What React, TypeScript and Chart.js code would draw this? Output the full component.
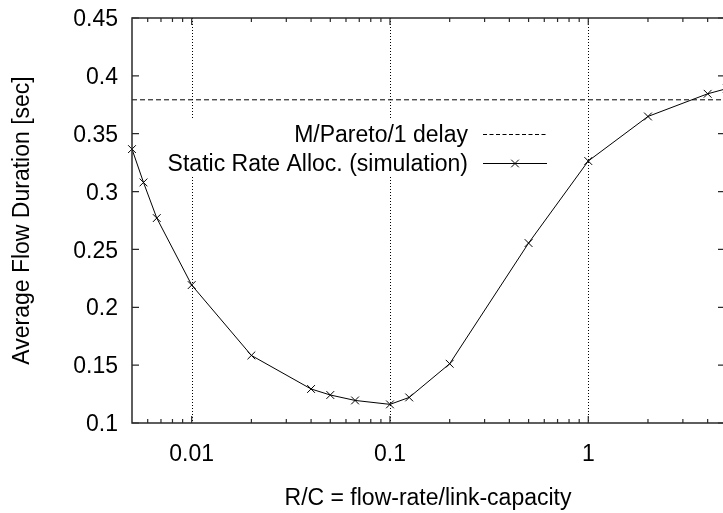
import React, { useEffect, useRef } from 'react';
import { Chart, registerables } from 'chart.js';

Chart.register(...registerables);

// ---- data ----
const rcRatio = [0.005, 0.005714, 0.006667, 0.01, 0.02, 0.04, 0.05, 0.06667, 0.1, 0.125, 0.2, 0.5, 1, 2, 4, 5];
const simDuration = [0.3367, 0.3079, 0.2771, 0.2192, 0.1584, 0.1294, 0.1242, 0.1195, 0.1161, 0.1221, 0.1512, 0.2555, 0.3264, 0.3649, 0.3845, 0.389];
const paretoDelay = 0.3793;
const xRange = [0.005, 4.78];
const yRange = [0.1, 0.45];

const xMajorTicks = [0.01, 0.1, 1];
const xMajorLabels = ['0.01', '0.1', '1'];
const xMinorTicks = [0.006, 0.007, 0.008, 0.009, 0.02, 0.03, 0.04, 0.05, 0.06, 0.07, 0.08, 0.09,
  0.2, 0.3, 0.4, 0.5, 0.6, 0.7, 0.8, 0.9, 2, 3, 4];
const yTicks = [0.1, 0.15, 0.2, 0.25, 0.3, 0.35, 0.4, 0.45];
const yTickLabels = ['0.1', '0.15', '0.2', '0.25', '0.3', '0.35', '0.4', '0.45'];

const xTitle = 'R/C = flow-rate/link-capacity';
const yTitle = 'Average Flow Duration [sec]';
const legendLabels = ['M/Pareto/1 delay', 'Static Rate Alloc. (simulation)'];

const FONT = '23px "Liberation Sans", Arial, sans-serif';
const AXIS_COLOR = '#2a2a2a';

const gnuplotPlugin = {
  id: 'gnuplotFrame',
  beforeDatasetsDraw(chart: any) {
    const { ctx, chartArea: a, scales } = chart;
    const x = scales.x;
    ctx.save();
    // dotted grid at major x ticks
    ctx.strokeStyle = '#000';
    ctx.lineWidth = 1;
    ctx.setLineDash([1, 2]);
    xMajorTicks.forEach((v) => {
      const px = Math.round(x.getPixelForValue(v)) + 0.5;
      ctx.beginPath();
      ctx.moveTo(px, a.top);
      ctx.lineTo(px, a.bottom);
      ctx.stroke();
    });
    ctx.setLineDash([]);
    // legend box background (blanks grid)
    ctx.fillStyle = '#fff';
    ctx.fillRect(160, 120, 395, 57);
    ctx.restore();
  },
  afterDraw(chart: any) {
    const { ctx, chartArea: a, scales } = chart;
    const x = scales.x;
    const y = scales.y;
    ctx.save();
    // border
    ctx.strokeStyle = AXIS_COLOR;
    ctx.lineWidth = 1.5;
    ctx.beginPath();
    ctx.moveTo(a.right + 2, a.top);
    ctx.lineTo(a.left, a.top);
    ctx.lineTo(a.left, a.bottom);
    ctx.lineTo(a.right + 2, a.bottom);
    ctx.stroke();
    // ticks
    ctx.lineWidth = 1.2;
    ctx.beginPath();
    xMajorTicks.forEach((v) => {
      const px = x.getPixelForValue(v);
      ctx.moveTo(px, a.bottom);
      ctx.lineTo(px, a.bottom - 7);
      ctx.moveTo(px, a.top);
      ctx.lineTo(px, a.top + 7);
    });
    xMinorTicks.forEach((v) => {
      const px = x.getPixelForValue(v);
      ctx.moveTo(px, a.bottom);
      ctx.lineTo(px, a.bottom - 4);
      ctx.moveTo(px, a.top);
      ctx.lineTo(px, a.top + 4);
    });
    yTicks.forEach((v) => {
      const py = y.getPixelForValue(v);
      ctx.moveTo(a.left, py);
      ctx.lineTo(a.left + 7, py);
      ctx.moveTo(a.right, py);
      ctx.lineTo(a.right - 5, py);
    });
    ctx.stroke();

    // tick labels
    ctx.fillStyle = '#000';
    ctx.font = FONT;
    ctx.textBaseline = 'alphabetic';
    ctx.textAlign = 'right';
    yTicks.forEach((v, i) => {
      const py = y.getPixelForValue(v);
      ctx.fillText(yTickLabels[i], a.left - 14, py + 8.2);
    });
    ctx.textAlign = 'center';
    xMajorTicks.forEach((v, i) => {
      const px = x.getPixelForValue(v);
      ctx.fillText(xMajorLabels[i], px, 461);
    });
    // axis titles
    ctx.fillText(xTitle, 428, 505);
    ctx.save();
    ctx.translate(29, (a.top + a.bottom) / 2);
    ctx.rotate(-Math.PI / 2);
    ctx.fillText(yTitle, 0, 0);
    ctx.restore();

    // legend
    const textRight = 468;
    const rows = [134, 163];
    ctx.textAlign = 'right';
    legendLabels.forEach((t, i) => ctx.fillText(t, textRight, rows[i] + 8.2));
    ctx.strokeStyle = '#000';
    ctx.lineWidth = 1;
    ctx.setLineDash([4, 2.5]);
    ctx.beginPath();
    ctx.moveTo(483, rows[0] + 0.5);
    ctx.lineTo(547, rows[0] + 0.5);
    ctx.stroke();
    ctx.setLineDash([]);
    ctx.beginPath();
    ctx.moveTo(483, rows[1] + 0.5);
    ctx.lineTo(547, rows[1] + 0.5);
    const mx = 515, my = rows[1] + 0.5, r = 3.8;
    ctx.moveTo(mx - r, my - r);
    ctx.lineTo(mx + r, my + r);
    ctx.moveTo(mx - r, my + r);
    ctx.lineTo(mx + r, my - r);
    ctx.stroke();
    ctx.restore();
  },
};

export default function App() {
  const ref = useRef<HTMLCanvasElement>(null);
  useEffect(() => {
    if (!ref.current) return;
    const clipBox = { left: 10, top: 10, right: 0, bottom: 10 };
    const chart = new Chart(ref.current, {
      type: 'line',
      data: {
        datasets: [
          {
            label: legendLabels[0],
            data: [
              { x: xRange[0], y: paretoDelay },
              { x: xRange[1], y: paretoDelay },
            ],
            borderColor: '#000',
            borderWidth: 1,
            borderDash: [5, 3],
            pointRadius: 0,
            fill: false,
            clip: clipBox as any,
          },
          {
            label: legendLabels[1],
            data: rcRatio.map((v, i) => ({ x: v, y: simDuration[i] })),
            borderColor: '#000',
            borderWidth: 1,
            pointStyle: 'crossRot',
            pointRadius: 5.5,
            pointBorderWidth: 1,
            pointBorderColor: '#000',
            pointBackgroundColor: '#000',
            fill: false,
            tension: 0,
            clip: clipBox as any,
          },
        ],
      },
      options: {
        animation: false,
        responsive: false,
        devicePixelRatio: 1,
        layout: { autoPadding: false, padding: { left: 132, top: 18, right: 0, bottom: 90 } },
        plugins: { legend: { display: false }, tooltip: { enabled: false } },
        scales: {
          x: { type: 'logarithmic', min: xRange[0], max: xRange[1], display: false },
          y: { type: 'linear', min: yRange[0], max: yRange[1], display: false },
        },
      },
      plugins: [gnuplotPlugin],
    });
    return () => chart.destroy();
  }, []);
  return (
    <div style={{ position: 'fixed', left: 0, top: 0, width: 723, height: 513, background: '#fff' }}>
      <canvas ref={ref} width={723} height={513} style={{ display: 'block' }} />
    </div>
  );
}
